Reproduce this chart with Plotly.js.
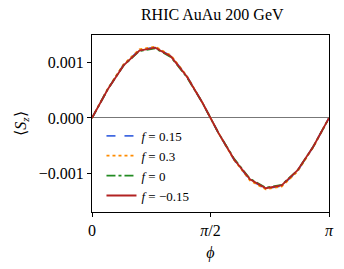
<!DOCTYPE html>
<html>
<head>
<meta charset="utf-8">
<script src="https://cdn.plot.ly/plotly-3.0.1.min.js"></script>
<style>html,body{margin:0;padding:0;background:#fff;}#chart{width:344px;height:269px;}</style>
</head>
<body>
<div id="chart"></div>
<script>
// phi grid (0..pi, 16 points)
const phi = [0, 0.2094, 0.4189, 0.6283, 0.8378, 1.0472, 1.2566, 1.4661, 1.6755, 1.8850, 2.0944, 2.3038, 2.5133, 2.7227, 2.9322, 3.1416];
const sz_f015 = [0, 0.00052, 0.00096, 0.00123, 0.00128, 0.00112, 0.00076, 0.00027, -0.00027, -0.00076, -0.00112, -0.00128, -0.00123, -0.00096, -0.00052, 0];
const sz_f03 = [0, 0.00053, 0.00097, 0.00124, 0.00129, 0.00113, 0.00076, 0.00027, -0.00027, -0.00076, -0.00113, -0.00129, -0.00124, -0.00097, -0.00053, 0];
const sz_f0 = [0, 0.00052, 0.00095, 0.00121, 0.00126, 0.00110, 0.00074, 0.00027, -0.00027, -0.00074, -0.00110, -0.00126, -0.00121, -0.00095, -0.00052, 0];
const sz_fm015 = [0, 0.00052, 0.00095, 0.00122, 0.00127, 0.00111, 0.00075, 0.00027, -0.00027, -0.00075, -0.00111, -0.00127, -0.00122, -0.00095, -0.00052, 0];
const seriesNames = ["<i>f</i> = 0.15", "<i>f</i> = 0.3", "<i>f</i> = 0", "<i>f</i> = −0.15"];
const xTickVals = [0, Math.PI / 2, Math.PI];
const xTickText = ["0", "<i>π</i>/2", "<i>π</i>"];
const yTickVals = [-0.001, 0, 0.001];
const yTickText = ["−0.001", "0.000", "0.001"];

const FONT = "Liberation Serif, Times New Roman, serif";
const traces = [
  {x: phi, y: sz_f015, name: seriesNames[0], mode: "lines", line: {color: "#4169E1", width: 1.8, dash: "dash"}},
  {x: phi, y: sz_f03, name: seriesNames[1], mode: "lines", line: {color: "#FF8C00", width: 1.8, dash: "dot"}},
  {x: phi, y: sz_f0, name: seriesNames[2], mode: "lines", line: {color: "#228B22", width: 1.8, dash: "dashdot"}},
  {x: phi, y: sz_fm015, name: seriesNames[3], mode: "lines", line: {color: "#B22222", width: 1.8}}
];
const layout = {
  width: 344, height: 269,
  margin: {l: 92, r: 15, t: 35, b: 57},
  paper_bgcolor: "#fff", plot_bgcolor: "#fff",
  font: {family: FONT, size: 16, color: "#000"},
  title: {text: "RHIC AuAu 200 GeV", font: {family: FONT, size: 16, color: "#000"}, x: 0.617, xanchor: "center", y: 0.945, yanchor: "middle"},
  showlegend: true,
  legend: {x: 0.04, y: 0.515, xanchor: "left", yanchor: "top", bgcolor: "rgba(0,0,0,0)", font: {family: FONT, size: 13}, tracegroupgap: 0},
  xaxis: {
    range: [0, Math.PI], tickvals: xTickVals, ticktext: xTickText,
    ticks: "outside", ticklen: 4, tickwidth: 1, tickcolor: "#000",
    showline: true, linecolor: "#000", linewidth: 1, mirror: true,
    showgrid: false, zeroline: false,
    tickfont: {family: FONT, size: 16},
    title: {text: "<i>ϕ</i>", font: {family: FONT, size: 16}, standoff: 8}
  },
  yaxis: {
    range: [-0.0017, 0.0015], tickvals: yTickVals, ticktext: yTickText,
    ticks: "outside", ticklen: 4, tickwidth: 1, tickcolor: "#000",
    showline: true, linecolor: "#000", linewidth: 1, mirror: true,
    showgrid: false, zeroline: true, zerolinecolor: "#555", zerolinewidth: 0.8,
    tickfont: {family: FONT, size: 16},
    title: {text: "⟨<i>S</i><sub><i>z</i></sub>⟩", font: {family: FONT, size: 16}, standoff: 8}
  }
};
Plotly.newPlot("chart", traces, layout, {displayModeBar: false, staticPlot: true});
</script>
</body>
</html>
